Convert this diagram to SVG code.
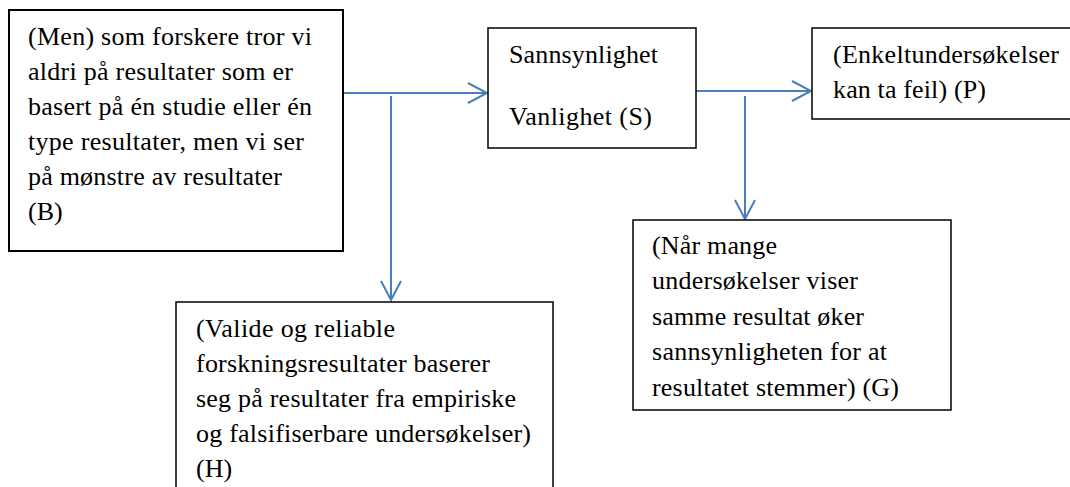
<svg xmlns="http://www.w3.org/2000/svg" width="1070" height="487" viewBox="0 0 1070 487">
<style>
.box{fill:#fff;stroke:#000;stroke-width:1.5}
.t{font-family:"Liberation Serif","Times New Roman",serif;font-size:26px;fill:#000}
.c{fill:none;stroke:#4a7ebb;stroke-width:2}
</style>
<defs>
<marker id="ah" markerUnits="userSpaceOnUse" viewBox="-22 -12 24 24" markerWidth="24" markerHeight="24" refX="0" refY="0" orient="auto">
<path d="M-19,-10 L0,0 L-19,10" fill="none" stroke="#4a7ebb" stroke-width="2"/>
</marker>
</defs>
<rect width="1070" height="487" fill="#fff"/>
<g id="connectors">
<line class="c" x1="344" y1="93" x2="487" y2="93" marker-end="url(#ah)"/>
<line class="c" x1="391" y1="96" x2="391" y2="300" marker-end="url(#ah)"/>
<line class="c" x1="696" y1="91" x2="811" y2="91" marker-end="url(#ah)"/>
<line class="c" x1="745" y1="96" x2="745" y2="219" marker-end="url(#ah)"/>
</g>
<g id="nodeB">
<rect class="box" x="9" y="10" width="334" height="241" style="stroke-width:2"/>
<text class="t" x="28" y="45" textLength="284" lengthAdjust="spacing">(Men) som forskere tror vi</text>
<text class="t" x="28" y="80" textLength="265" lengthAdjust="spacing">aldri på resultater som er</text>
<text class="t" x="28" y="115" textLength="284" lengthAdjust="spacing">basert på én studie eller én</text>
<text class="t" x="28" y="150" textLength="276" lengthAdjust="spacing">type resultater, men vi ser</text>
<text class="t" x="28" y="185" textLength="254" lengthAdjust="spacing">på mønstre av resultater</text>
<text class="t" x="28" y="220">(B)</text>
</g>
<g id="nodeS">
<rect class="box" x="488" y="28" width="208" height="120"/>
<text class="t" x="509" y="63" textLength="149" lengthAdjust="spacing">Sannsynlighet</text>
<text class="t" x="509" y="125" textLength="143" lengthAdjust="spacing">Vanlighet (S)</text>
</g>
<g id="nodeP">
<rect class="box" x="812" y="28" width="260" height="91"/>
<text class="t" x="833" y="63" textLength="226" lengthAdjust="spacing">(Enkeltundersøkelser</text>
<text class="t" x="833" y="98" textLength="153" lengthAdjust="spacing">kan ta feil) (P)</text>
</g>
<g id="nodeG">
<rect class="box" x="633" y="220" width="318" height="190"/>
<text class="t" x="652" y="254" textLength="125" lengthAdjust="spacing">(Når mange</text>
<text class="t" x="652" y="289" textLength="206" lengthAdjust="spacing">undersøkelser viser</text>
<text class="t" x="652" y="325" textLength="212" lengthAdjust="spacing">samme resultat øker</text>
<text class="t" x="652" y="360" textLength="235" lengthAdjust="spacing">sannsynligheten for at</text>
<text class="t" x="652" y="396" textLength="247" lengthAdjust="spacing">resultatet stemmer) (G)</text>
</g>
<g id="nodeH">
<rect class="box" x="176" y="302" width="377" height="200"/>
<text class="t" x="196" y="337" textLength="199" lengthAdjust="spacing">(Valide og reliable</text>
<text class="t" x="196" y="372" textLength="294" lengthAdjust="spacing">forskningsresultater baserer</text>
<text class="t" x="196" y="407" textLength="320" lengthAdjust="spacing">seg på resultater fra empiriske</text>
<text class="t" x="196" y="442" textLength="335" lengthAdjust="spacing">og falsifiserbare undersøkelser)</text>
<text class="t" x="196" y="477">(H)</text>
</g>
</svg>
